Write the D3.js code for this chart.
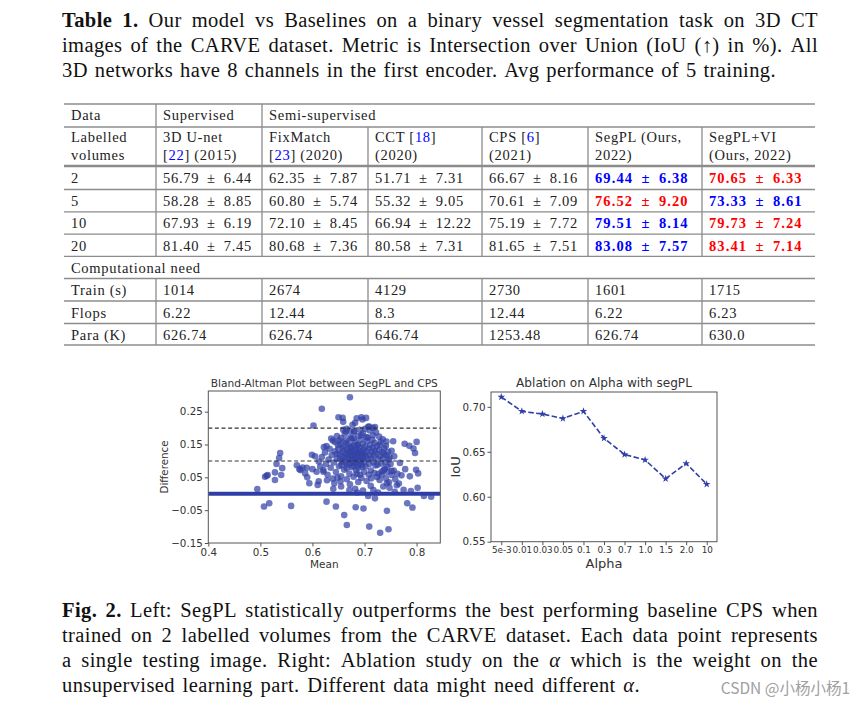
<!DOCTYPE html>
<html><head><meta charset="utf-8">
<script src="https://cdn.jsdelivr.net/npm/d3@7"></script>
<style>
body{margin:0;background:#fff}
.cap{font-family:"Liberation Serif",serif;font-size:20.5px;fill:#111;letter-spacing:0.4px}
.tbl{font-family:"Liberation Serif",serif;font-size:14.5px;fill:#222;letter-spacing:0.7px}
.ch{font-family:"DejaVu Sans",sans-serif;fill:#333}
</style></head>
<body><svg id="c" width="868" height="705"></svg>
<script>
// ---------------- DATA ----------------
const tableCaptionLines = [
  "Table 1. Our model vs Baselines on a binary vessel segmentation task on 3D CT",
  "images of the CARVE dataset. Metric is Intersection over Union (IoU (↑) in %). All",
  "3D networks have 8 channels in the first encoder. Avg performance of 5 training."
];
const figCaptionLines = [
  "Fig. 2. Left: SegPL statistically outperforms the best performing baseline CPS when",
  "trained on 2 labelled volumes from the CARVE dataset. Each data point represents",
  "a single testing image. Right: Ablation study on the α which is the weight on the",
  "unsupervised learning part. Different data might need different α."
];
const methodLine1 = [["3D U-net"],["FixMatch"],["CCT [","18","]"],["CPS [","6","]"],["SegPL (Ours,"],["SegPL+VI"]];
const methodLine2 = [["[","22","] (2015)"],["[","23","] (2020)"],["(2020)"],["(2021)"],["2022)"],["(Ours, 2022)"]];
const labelledVolumes = ["2","5","10","20"];
const unetMean = [56.79,58.28,67.93,81.40],   unetStd = [6.44,8.85,6.19,7.45];
const fixMean  = [62.35,60.80,72.10,80.68],   fixStd  = [7.87,5.74,8.45,7.36];
const cctMean  = [51.71,55.32,66.94,80.58],   cctStd  = [7.31,9.05,12.22,7.31];
const cpsMean  = [66.67,70.61,75.19,81.65],   cpsStd  = [8.16,7.09,7.72,7.51];
const segplMean   = [69.44,76.52,79.51,83.08], segplStd   = [6.38,9.20,8.14,7.57];
const segplviMean = [70.65,73.33,79.73,83.41], segplviStd = [6.33,8.61,7.24,7.14];
const segplRank   = ["second","best","second","second"];
const segplviRank = ["best","second","best","best"];
const compLabels = ["Train (s)","Flops","Para (K)"];
const trainTime = ["1014","2674","4129","2730","1601","1715"];
const flops     = ["6.22","12.44","8.3","12.44","6.22","6.23"];
const paraK     = ["626.74","626.74","646.74","1253.48","626.74","630.0"];

const alphaLabels = ["5e-3","0.01","0.03","0.05","0.1","0.3","0.7","1.0","1.5","2.0","10"];
const alphaIoU    = [0.711,0.695,0.692,0.687,0.695,0.665,0.647,0.641,0.620,0.637,0.614];
const meanTicks = [0.4,0.5,0.6,0.7,0.8];
const diffTicks = [-0.15,-0.05,0.05,0.15,0.25];
const iouTicks  = [0.55,0.60,0.65,0.70];
const limitLines = [0.1,0.2];
const biasLine = 0.0;
// Bland-Altman points [mean, difference]
const baPoints = [
 [0.494,0.014],[0.507,-0.039],[0.517,-0.029],[0.509,0.052],[0.512,0.055],[0.514,0.057],[0.528,0.042],[0.528,0.065],
 [0.531,0.091],[0.536,0.109],[0.538,0.124],[0.542,0.078],[0.540,0.057],[0.559,-0.037],[0.570,0.087],[0.577,0.072],
 [0.581,0.080],[0.589,0.079],[0.586,0.062],[0.594,0.032],[0.590,0.050],[0.599,0.119],[0.605,0.114],[0.602,0.208],
 [0.618,0.259],[0.672,0.294],[0.650,0.233],[0.658,0.231],[0.659,0.219],[0.682,0.216],[0.677,0.210],[0.696,0.226],
 [0.703,0.231],[0.709,0.205],[0.716,0.200],[0.659,0.195],[0.666,0.198],[0.664,0.190],[0.673,0.190],[0.680,0.190],
 [0.691,0.195],[0.755,0.160],[0.752,0.131],[0.757,0.114],[0.797,0.124],[0.622,0.142],[0.627,0.145],[0.639,0.162],
 [0.643,0.158],[0.652,0.162],[0.655,0.170],[0.768,0.094],[0.610,0.027],[0.608,0.067],[0.621,0.067],[0.600,0.075],
 [0.575,0.075],[0.685,0.230],[0.694,0.233],[0.707,0.204],
 [0.627,-0.024],[0.645,-0.039],[0.661,-0.065],[0.666,-0.095],[0.683,-0.041],[0.698,-0.045],[0.709,-0.100],[0.730,-0.119],
 [0.743,-0.052],[0.746,-0.108],[0.782,-0.029],[0.792,-0.042],[0.814,-0.007],[0.828,-0.009],[0.802,0.018],[0.707,-0.007],
 [0.720,-0.014],[0.640,0.015],[0.682,0.015],[0.778,0.075],[0.787,0.053],[0.799,0.073],[0.803,0.062],[0.752,0.069],
 [0.736,0.022],[0.743,0.032],[0.717,0.011],[0.800,0.158],
 [0.647,0.121],[0.650,0.138],[0.653,0.104],[0.654,0.152],[0.656,0.087],[0.658,0.128],[0.659,0.113],[0.661,0.145],
 [0.662,0.096],[0.664,0.163],[0.665,0.121],[0.666,0.078],[0.667,0.134],[0.668,0.108],[0.670,0.151],[0.671,0.092],
 [0.672,0.126],[0.673,0.140],[0.674,0.114],[0.675,0.168],[0.676,0.101],[0.677,0.131],[0.678,0.085],[0.679,0.147],
 [0.680,0.119],[0.681,0.107],[0.682,0.158],[0.683,0.136],[0.684,0.094],[0.685,0.124],[0.686,0.113],[0.687,0.149],
 [0.688,0.079],[0.689,0.131],[0.690,0.102],[0.691,0.141],[0.692,0.118],[0.693,0.165],[0.694,0.089],[0.695,0.127],
 [0.696,0.109],[0.697,0.152],[0.698,0.135],[0.699,0.097],[0.700,0.121],[0.701,0.144],[0.702,0.083],[0.703,0.113],
 [0.704,0.129],[0.705,0.161],[0.706,0.104],[0.708,0.138],[0.709,0.091],[0.710,0.119],[0.711,0.148],[0.713,0.108],
 [0.714,0.127],[0.716,0.139],[0.717,0.097],[0.718,0.116],[0.720,0.131],[0.721,0.086],[0.723,0.122],[0.724,0.145],
 [0.726,0.105],[0.728,0.133],[0.730,0.114],[0.732,0.092],[0.734,0.127],[0.736,0.108],[0.738,0.139],[0.740,0.096],
 [0.742,0.117],[0.744,0.083],[0.747,0.104],[0.750,0.091],
 [0.712,0.071],[0.719,0.155],[0.725,0.088],[0.729,0.149],[0.733,0.068],[0.737,0.121],[0.741,0.146],[0.745,0.128],
 [0.748,0.112],[0.739,0.076],[0.727,0.061],[0.715,0.164],[0.706,0.171],[0.731,0.158],
 [0.612,0.098],[0.615,0.083],[0.618,0.112],[0.621,0.072],[0.624,0.126],[0.626,0.091],[0.629,0.058],[0.631,0.104],
 [0.633,0.137],[0.635,0.079],[0.637,0.118],[0.639,0.046],[0.641,0.095],[0.643,0.129],[0.645,0.066],[0.647,0.108],
 [0.649,0.148],[0.651,0.084],[0.653,0.121],[0.655,0.053],[0.657,0.099],[0.659,0.137],[0.661,0.073],[0.663,0.112],
 [0.665,0.155],[0.667,0.089],[0.669,0.127],[0.671,0.061],[0.672,0.104],[0.674,0.142],[0.676,0.081],[0.677,0.118],
 [0.679,0.169],[0.681,0.095],[0.682,0.132],[0.684,0.071],[0.685,0.111],[0.687,0.149],[0.688,0.087],[0.690,0.125],
 [0.691,0.058],[0.693,0.101],[0.694,0.178],[0.696,0.082],[0.697,0.115],
 [0.612,0.038],[0.628,0.041],[0.642,0.032],[0.648,0.049],[0.654,0.038],[0.666,0.044],[0.672,0.029],[0.679,0.052],
 [0.685,0.061],[0.688,0.036],[0.694,0.048],[0.699,0.066],[0.704,0.039],[0.708,0.058],[0.713,0.047],[0.719,0.063],
 [0.724,0.051],[0.729,0.042],[0.733,0.058],[0.737,0.072],[0.741,0.047],[0.744,0.066],[0.747,0.035],[0.752,0.057],
 [0.756,0.071],[0.759,0.044],[0.763,0.061],[0.766,0.031],[0.771,0.056],[0.697,0.010],[0.712,0.024],[0.726,0.004],
 [0.748,0.018],[0.758,0.006],[0.762,0.026],[0.775,0.012],[0.789,0.008],[0.655,0.022],[0.671,0.011],[0.686,0.004],
 [0.662,0.182],[0.673,0.171],[0.680,0.189],[0.688,0.176],[0.697,0.184],[0.704,0.172],[0.710,0.193],[0.716,0.178],
 [0.722,0.187],[0.728,0.174],[0.735,0.166],[0.742,0.159],[0.701,0.198],[0.720,0.203],[0.647,0.176],[0.636,0.168],
 [0.777,0.152],[0.786,0.146],[0.794,0.138]
];

// ---------------- DRAW ----------------
const svg = d3.select("#c");
const BLUE = "#0000ff", RED = "#ff0000";

function para(lines, y0, lh, rights, nBold){
  lines.forEach((line,i)=>{
    const words = line.split(" ");
    const y = y0 + i*lh;
    const nodes = words.map((w,j)=>{
      const t = svg.append("text").attr("class","cap").attr("y",y);
      if(i===0 && j<nBold) t.attr("font-weight","bold");
      w.split(/(α)/).filter(s=>s).forEach(s=>{
        const ts = t.append("tspan").text(s);
        if(s==="α") ts.attr("font-style","italic");
      });
      return t;
    });
    const ws = nodes.map(n=>n.node().getComputedTextLength());
    const gap = (rights[i]-62-d3.sum(ws))/(words.length-1);
    let x = 62;
    nodes.forEach((n,j)=>{ n.attr("x",x); x += ws[j]+gap; });
  });
}
para(tableCaptionLines, 26.5, 25, [818,818,776], 2);
para(figCaptionLines, 616.5, 25, [818,818,818,640], 2);

svg.append("text").attr("x",850).attr("y",694).attr("text-anchor","end")
  .style("font-family","'Noto Sans CJK SC',sans-serif").style("font-size","15.5px").style("fill","#a0a0a0")
  .text("CSDN @小杨小杨1");

// ---- table ----
const colX = [64,156,262,368,482,588,702,815];
const rowY = [104,127,166,189.5,211.8,234.2,256.4,278.5,301,323.5,345];
const tg = svg.append("g");
function cell(x,y,parts,opts={}){
  const t = tg.append("text").attr("class","tbl").attr("x",x).attr("y",y);
  parts.forEach((p,k)=>{
    const ts = t.append("tspan").text(p);
    if(parts.length===3 && k===1) ts.style("fill",BLUE);
  });
  if(opts.color){ t.style("fill",opts.color); }
  if(opts.bold){ t.attr("font-weight","bold").style("letter-spacing","1.1px"); }
  return t;
}
const pad = 7;
rowY.forEach((y,i)=>{
  tg.append("line").attr("x1",colX[0]).attr("x2",colX[7]).attr("y1",y).attr("y2",y)
    .attr("stroke","#8c8c8c").attr("stroke-width", i===2 ? 2.4 : 1.3);
});
colX.slice(1,7).forEach((x,i)=>{
  const top = i<2 ? rowY[0] : rowY[1];
  [[top,rowY[6]],[rowY[7],rowY[10]]].forEach(([a,b])=>{
    tg.append("line").attr("x1",x).attr("x2",x).attr("y1",a).attr("y2",b)
      .attr("stroke","#8c8c8c").attr("stroke-width",1.3);
  });
});
cell(colX[0]+pad,120,["Data"]);
cell(colX[1]+pad,120,["Supervised"]);
cell(colX[2]+pad,120,["Semi-supervised"]);
cell(colX[0]+pad,141.5,["Labelled"]);
cell(colX[0]+pad,159.5,["volumes"]);
methodLine1.forEach((p,i)=>cell(colX[i+1]+pad,141.5,p));
methodLine2.forEach((p,i)=>cell(colX[i+1]+pad,159.5,p));
const fmt = (m,s)=> m.toFixed(2)+"\u2002±\u2002"+s.toFixed(2);
const cols = [[unetMean,unetStd],[fixMean,fixStd],[cctMean,cctStd],[cpsMean,cpsStd]];
labelledVolumes.forEach((lv,r)=>{
  const y = rowY[2+r]+16.5;
  cell(colX[0]+pad,y,[lv]);
  cols.forEach(([m,s],c)=>cell(colX[c+1]+pad,y,[fmt(m[r],s[r])]));
  cell(colX[5]+pad,y,[fmt(segplMean[r],segplStd[r])],{bold:true,color:segplRank[r]==="best"?RED:BLUE});
  cell(colX[6]+pad,y,[fmt(segplviMean[r],segplviStd[r])],{bold:true,color:segplviRank[r]==="best"?RED:BLUE});
});
cell(colX[0]+pad,rowY[6]+16.5,["Computational need"]);
[trainTime,flops,paraK].forEach((arr,r)=>{
  const y = rowY[7+r]+16.5;
  cell(colX[0]+pad,y,[compLabels[r]]);
  arr.forEach((v,c)=>cell(colX[c+1]+pad,y,[v]));
});

// ---- Bland-Altman ----
const L = {x0:208.3,x1:440.3,y0:391,y1:543};
const xs = d3.scaleLinear().domain([0.4,0.8455]).range([L.x0,L.x1]);
const ys = d3.scaleLinear().domain([-0.15,0.313]).range([L.y1,L.y0]);
const g1 = svg.append("g");
g1.append("g").selectAll("circle").data(baPoints).join("circle")
  .attr("cx",d=>xs(d[0])).attr("cy",d=>ys(d[1])).attr("r",3.3)
  .attr("fill","#3343a6").attr("fill-opacity",0.72);
limitLines.forEach(v=>g1.append("line").attr("x1",L.x0).attr("x2",L.x1).attr("y1",ys(v)).attr("y2",ys(v))
  .attr("stroke","#333").attr("stroke-width",1.1).attr("stroke-dasharray","4,2.6"));
g1.append("line").attr("x1",L.x0).attr("x2",L.x1).attr("y1",ys(biasLine)).attr("y2",ys(biasLine))
  .attr("stroke","#2f3ea6").attr("stroke-width",4);
const ax1 = g1.append("g").attr("transform",`translate(0,${L.y1})`)
  .call(d3.axisBottom(xs).tickValues(meanTicks).tickFormat(d3.format(".1f")).tickSize(3.5).tickPadding(2));
const ay1 = g1.append("g").attr("transform",`translate(${L.x0},0)`)
  .call(d3.axisLeft(ys).tickValues(diffTicks).tickFormat(d3.format(".2f")).tickSize(3.5).tickPadding(2));
[ax1,ay1].forEach(a=>{ a.select(".domain").remove(); a.selectAll("line").attr("stroke","#555");
  a.selectAll("text").attr("class","ch").style("font-size","10.3px").style("fill","#333"); });
g1.append("rect").attr("x",L.x0).attr("y",L.y0).attr("width",L.x1-L.x0).attr("height",L.y1-L.y0)
  .attr("fill","none").attr("stroke","#555").attr("stroke-width",1);
g1.append("text").attr("class","ch").attr("x",(L.x0+L.x1)/2).attr("y",386.5).attr("text-anchor","middle")
  .style("font-size","10.6px").text("Bland-Altman Plot between SegPL and CPS");
g1.append("text").attr("class","ch").attr("x",(L.x0+L.x1)/2).attr("y",568).attr("text-anchor","middle")
  .style("font-size","10.5px").text("Mean");
g1.append("text").attr("class","ch").attr("transform",`translate(168,${(L.y0+L.y1)/2}) rotate(-90)`)
  .attr("text-anchor","middle").style("font-size","10.3px").text("Difference");

// ---- Ablation ----
const R = {x0:491,x1:717,y0:392,y1:541.7};
const xa = d3.scalePoint().domain(alphaLabels).range([R.x0,R.x1]).padding(0.5);
const ya = d3.scaleLinear().domain([0.55,0.7165]).range([R.y1,R.y0]);
const g2 = svg.append("g");
g2.append("path").datum(alphaIoU.map((v,i)=>[alphaLabels[i],v]))
  .attr("d",d3.line().x(d=>xa(d[0])).y(d=>ya(d[1])))
  .attr("fill","none").attr("stroke","#3040a8").attr("stroke-width",1.6).attr("stroke-dasharray","5.5,2.4");
g2.selectAll(".star").data(alphaIoU).join("path")
  .attr("transform",(d,i)=>`translate(${xa(alphaLabels[i])},${ya(d)})`)
  .attr("d",d3.symbol(d3.symbolStar,18)).attr("fill","#3040a8");
const ax2 = g2.append("g").attr("transform",`translate(0,${R.y1})`)
  .call(d3.axisBottom(xa).tickSize(3.5).tickPadding(2));
const ay2 = g2.append("g").attr("transform",`translate(${R.x0},0)`)
  .call(d3.axisLeft(ya).tickValues(iouTicks).tickFormat(d3.format(".2f")).tickSize(3.5).tickPadding(2));
[ax2,ay2].forEach(a=>{ a.select(".domain").remove(); a.selectAll("line").attr("stroke","#555"); });
ax2.selectAll("text").attr("class","ch").style("font-size","8.8px").style("fill","#333");
ay2.selectAll("text").attr("class","ch").style("font-size","10.3px").style("fill","#333");
g2.append("rect").attr("x",R.x0).attr("y",R.y0).attr("width",R.x1-R.x0).attr("height",R.y1-R.y0)
  .attr("fill","none").attr("stroke","#555").attr("stroke-width",1);
g2.append("text").attr("class","ch").attr("x",(R.x0+R.x1)/2).attr("y",387).attr("text-anchor","middle")
  .style("font-size","12.1px").text("Ablation on Alpha with segPL");
g2.append("text").attr("class","ch").attr("x",(R.x0+R.x1)/2).attr("y",568).attr("text-anchor","middle")
  .style("font-size","13px").text("Alpha");
g2.append("text").attr("class","ch").attr("transform",`translate(460,${(R.y0+R.y1)/2}) rotate(-90)`)
  .attr("text-anchor","middle").style("font-size","13px").text("IoU");
</script>
</body></html>
